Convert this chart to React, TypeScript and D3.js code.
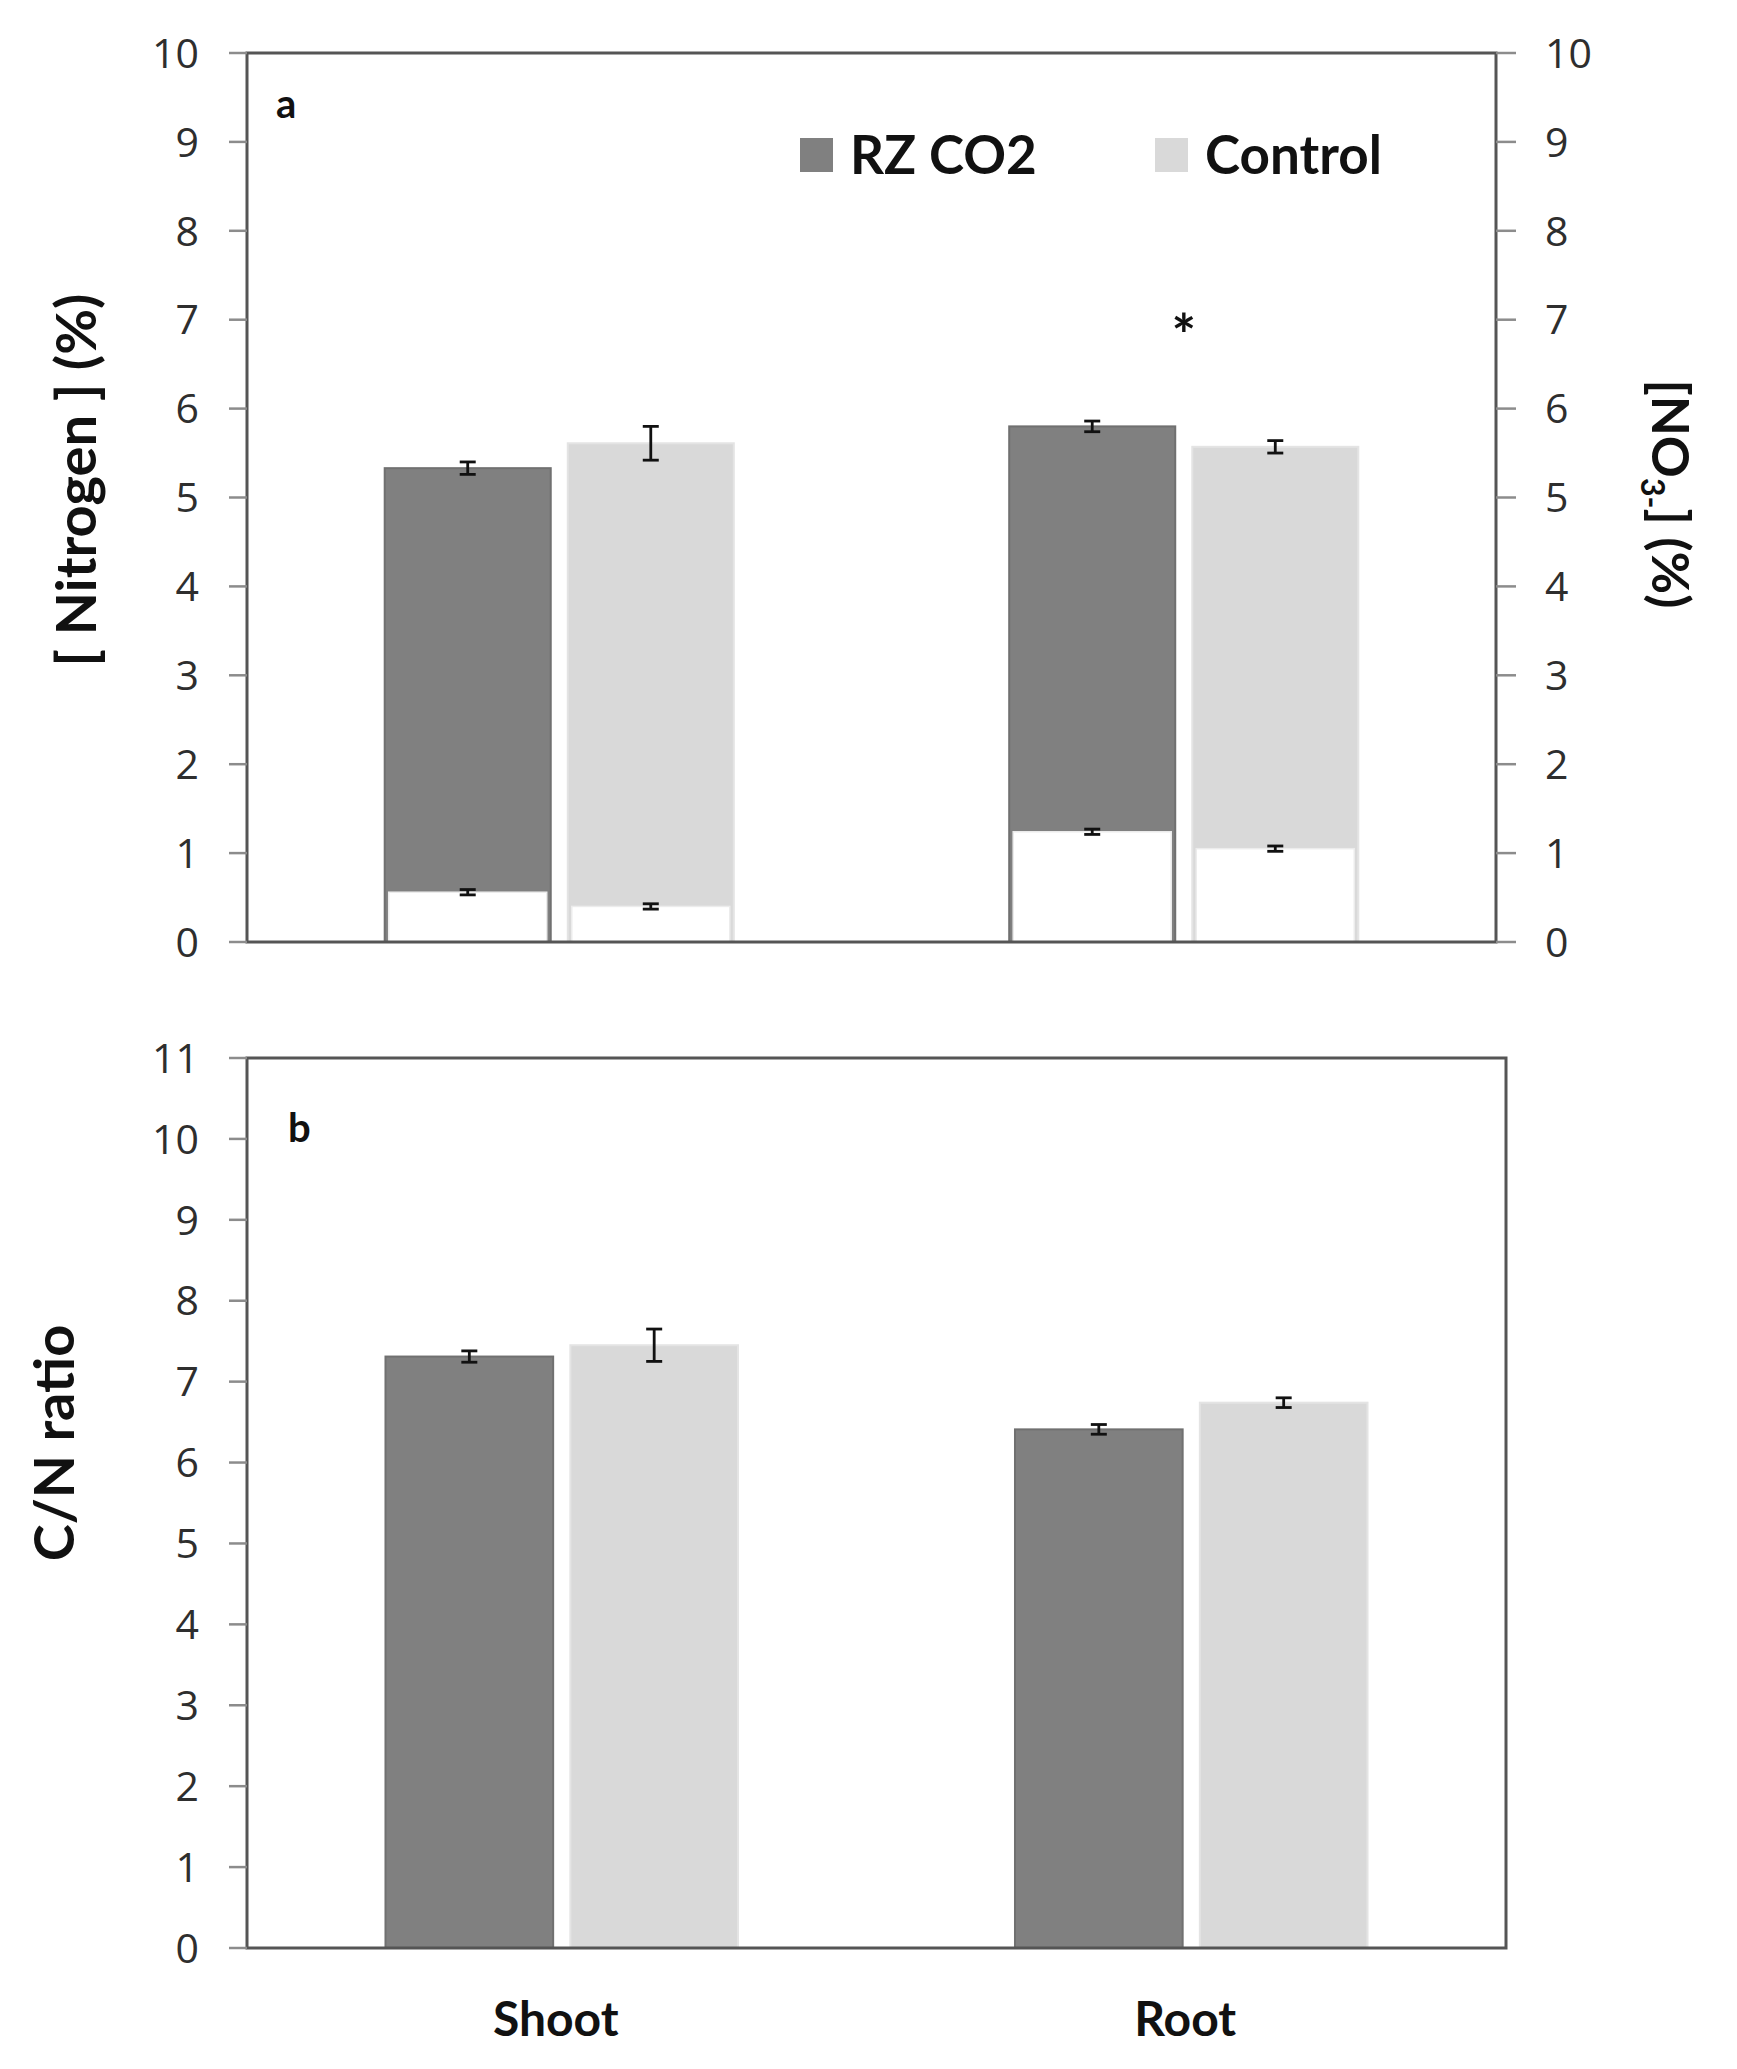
import React from 'react';
import * as d3 from 'd3';

const categories = ['Shoot', 'Root'];
const series = ['RZ CO2', 'Control'];
const colors = ['#808080', '#d9d9d9'];
const edgeColors = ['#707070', '#e4e4e4'];

// panel a: total nitrogen (%) and nitrate (%) per category, per series
const nitrogen = [[5.33, 5.61], [5.80, 5.57]];
const nitrogenErr = [[0.07, 0.19], [0.06, 0.07]];
const nitrate = [[0.56, 0.40], [1.24, 1.05]];
const nitrateErr = [[0.03, 0.03], [0.03, 0.03]];

// panel b: C/N ratio
const cnRatio = [[7.31, 7.45], [6.41, 6.74]];
const cnErr = [[0.07, 0.2], [0.06, 0.06]];

const ticksA = d3.range(0, 11);
const ticksB = d3.range(0, 12);

const W = 1737;
const H = 2069;

const tickFont = '"Open Sans", sans-serif';
const labelFont = 'Lato, "Open Sans", sans-serif';

export default () => {
  // scales
  const x0a = d3.scaleBand<string>().domain(categories).range([247, 1496]).paddingInner(0.441).paddingOuter(0.2205);
  const x0b = d3.scaleBand<string>().domain(categories).range([247, 1506]).paddingInner(0.44).paddingOuter(0.22);
  const x1a = d3.scaleBand<string>().domain(series).range([0, x0a.bandwidth()]).paddingInner(0.093);
  const x1b = d3.scaleBand<string>().domain(series).range([0, x0b.bandwidth()]).paddingInner(0.093);
  const ya = d3.scaleLinear().domain([0, 10]).range([942, 53]);
  const yb = d3.scaleLinear().domain([0, 11]).range([1948, 1058]);

  const errBar = (key: string, cx: number, y: d3.ScaleLinear<number, number>, v: number, e: number) => (
    <g key={key} stroke="#111" strokeWidth={2.8}>
      <line x1={cx} x2={cx} y1={y(v - e)} y2={y(v + e)} />
      <line x1={cx - 8} x2={cx + 8} y1={y(v - e)} y2={y(v - e)} />
      <line x1={cx - 8} x2={cx + 8} y1={y(v + e)} y2={y(v + e)} />
    </g>
  );

  const leftAxis = (ticks: number[], y: d3.ScaleLinear<number, number>, x: number) => (
    <g>
      {ticks.map(t => (
        <g key={t}>
          <line x1={x - 18} x2={x} y1={y(t)} y2={y(t)} stroke="#8c8c8c" strokeWidth={2.5} />
          <text x={x - 48} y={y(t)} dy="0.36em" textAnchor="end" fontFamily={tickFont} fontSize={41} fill="#2e2e2e">{t}</text>
        </g>
      ))}
    </g>
  );

  return (
    <svg width={W} height={H} style={{ position: 'absolute', left: 0, top: 0, background: '#fff' }}>
      {/* ---------- panel a ---------- */}
      <g>
        {categories.map((c, ci) => series.map((s, si) => {
          const bx = (x0a(c) || 0) + (x1a(s) || 0);
          const bw = x1a.bandwidth();
          const cx = bx + bw / 2;
          return (
            <g key={c + s}>
              <rect x={bx} y={ya(nitrogen[ci][si])} width={bw} height={ya(0) - ya(nitrogen[ci][si])}
                fill={colors[si]} stroke={edgeColors[si]} strokeWidth={2} />
              <rect x={bx + 4} y={ya(nitrate[ci][si])} width={bw - 8} height={ya(0) - ya(nitrate[ci][si])}
                fill="#fff" stroke="#ececec" strokeWidth={1.5} />
              {errBar('n', cx, ya, nitrogen[ci][si], nitrogenErr[ci][si])}
              {errBar('no3', cx, ya, nitrate[ci][si], nitrateErr[ci][si])}
            </g>
          );
        }))}
        <rect x={247} y={ya(10)} width={1496 - 247} height={ya(0) - ya(10)} fill="none" stroke="#555" strokeWidth={3} />
        {leftAxis(ticksA, ya, 247)}
        {ticksA.map(t => (
          <g key={'r' + t}>
            <line x1={1496} x2={1516} y1={ya(t)} y2={ya(t)} stroke="#8c8c8c" strokeWidth={2.5} />
            <text x={1545} y={ya(t)} dy="0.36em" textAnchor="start" fontFamily={tickFont} fontSize={41} fill="#2e2e2e">{t}</text>
          </g>
        ))}
        <text x={276} y={118} fontFamily={labelFont} fontWeight="bold" fontSize={40} fill="#111">a</text>
        {/* significance */}
        <text x={(x0a('Root') || 0) + x0a.bandwidth() / 2} y={ya(7.0)} dy="0.62em" textAnchor="middle"
          fontFamily={labelFont} fontWeight="bold" fontSize={58} fill="#111">*</text>
        {/* legend */}
        {series.map((s, si) => {
          const lx = [800, 1155][si];
          return (
            <g key={s}>
              <rect x={lx} y={138} width={33} height={34} fill={colors[si]} />
              <text x={lx + 50} y={174} fontFamily={labelFont} fontWeight="bold" fontSize={53} fill="#111">{s}</text>
            </g>
          );
        })}
        <text transform={`translate(96, 480) rotate(-90)`} textAnchor="middle" fontFamily={labelFont}
          fontWeight="bold" fontSize={56} fill="#111">[ Nitrogen ] (%)</text>
        <text transform={`translate(1652, 494) rotate(90)`} textAnchor="middle" fontFamily={labelFont}
          fontWeight="bold" fontSize={52} fill="#111">
          [NO<tspan fontSize={32} dy={11}>3-</tspan><tspan dy={-11}>] (%)</tspan>
        </text>
      </g>

      {/* ---------- panel b ---------- */}
      <g>
        {categories.map((c, ci) => series.map((s, si) => {
          const bx = (x0b(c) || 0) + (x1b(s) || 0);
          const bw = x1b.bandwidth();
          return (
            <g key={c + s}>
              <rect x={bx} y={yb(cnRatio[ci][si])} width={bw} height={yb(0) - yb(cnRatio[ci][si])}
                fill={colors[si]} stroke={edgeColors[si]} strokeWidth={2} />
              {errBar('cn', bx + bw / 2, yb, cnRatio[ci][si], cnErr[ci][si])}
            </g>
          );
        }))}
        <rect x={247} y={yb(11)} width={1506 - 247} height={yb(0) - yb(11)} fill="none" stroke="#555" strokeWidth={3} />
        {leftAxis(ticksB, yb, 247)}
        <text x={288} y={1142} fontFamily={labelFont} fontWeight="bold" fontSize={40} fill="#111">b</text>
        <text transform={`translate(74, 1443) rotate(-90)`} textAnchor="middle" fontFamily={labelFont}
          fontWeight="bold" fontSize={56} fill="#111">C/N ratio</text>
        {categories.map(c => (
          <text key={c} x={(x0b(c) || 0) + x0b.bandwidth() / 2 - 6} y={2036} textAnchor="middle"
            fontFamily={labelFont} fontWeight="bold" fontSize={48} fill="#111">{c}</text>
        ))}
      </g>
    </svg>
  );
};
